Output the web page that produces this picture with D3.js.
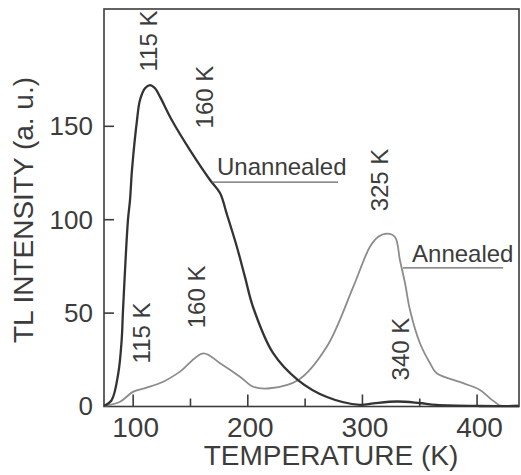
<!DOCTYPE html>
<html>
<head>
<meta charset="utf-8">
<script src="https://cdn.jsdelivr.net/npm/d3@7"></script>
<style>
  html, body { margin: 0; padding: 0; background: #ffffff; }
  svg { display: block; font-family: "Liberation Sans", Arial, sans-serif; }
</style>
</head>
<body>
<svg id="chart" width="521" height="475"></svg>
<script>
// Thermoluminescence glow curves: temperature (K) vs TL intensity (a. u.)
const unannealedT = [75, 81.7, 87.5, 90.4, 91.6, 95.9, 97.7, 99.4, 103.8, 106.4, 110.8, 115.1, 119.5, 123.8, 134.1, 150, 167.5, 176.2, 182, 191, 198, 205, 222.4, 244.2, 269.5, 298.3, 310, 330.6, 350, 365, 403, 437];
const unannealedI = [0, 3.2, 17.7, 35.3, 51.4, 99.6, 110.3, 126.3, 153.1, 163.8, 170.1, 171.8, 170.1, 165.6, 153.1, 137, 121, 114, 103, 85, 69, 53, 28.4, 13.9, 4.8, 0.6, 1.4, 2.4, 1.6, 0.6, 0, 0];

const annealedT = [75, 89, 100.6, 112.2, 126.7, 141.3, 161.6, 176.2, 193.6, 205.2, 219.8, 244.5, 269.3, 292.5, 307, 314, 321.9, 328.8, 333.2, 337.6, 341.9, 350.6, 359.4, 365.2, 388.4, 403, 411.7, 417.5, 420, 437];
const annealedI = [0, 2.3, 7.7, 9.8, 13, 18.4, 28.2, 22.9, 15.7, 10.3, 9.5, 13.9, 31.7, 63.9, 85.3, 90.5, 92.3, 90.5, 77.9, 65.7, 51.4, 33.6, 22.9, 17.5, 12.2, 8.6, 4.1, 1.4, 0.3, 0.3];

const xMajorTicks = [100, 200, 300, 400];
const xMinorTicks = [150, 250, 350];
const yTicks = [0, 50, 100, 150];

// Peak annotations: [text, temperature, intensity]
const peakLabels = [
  ["115 K", 113.4, 195.4],
  ["160 K", 162.7, 165.4],
  ["325 K", 315.3, 121],
  ["340 K", 333.2, 30.5],
  ["115 K", 107.4, 39.1],
  ["160 K", 155.3, 58.4]
];
// Series names with leader lines: [text, textT, textI, lineT0, lineT1, lineI]
const seriesLabels = [
  ["Unannealed", 173.6, 123.7, 169.2, 279.1, 119.9],
  ["Annealed", 343.7, 77.1, 335.8, 423.1, 73.9]
];

const svg = d3.select("#chart");
const ink = "#3c3c3c";
const frameL = 104, frameR = 519, frameT = 9, frameB = 406.5;

const x = d3.scaleLinear().domain([75, 437]).range([frameL, frameR]);
const y = d3.scaleLinear().domain([0, 212]).range([406, frameT + 1]);

// frame
svg.append("rect")
  .attr("x", frameL).attr("y", frameT)
  .attr("width", frameR - frameL).attr("height", frameB - frameT)
  .attr("fill", "none").attr("stroke", ink).attr("stroke-width", 1.6);

// x axis ticks (inward) and labels
const xAxis = svg.append("g").attr("transform", `translate(0,${frameB})`);
xAxis.call(d3.axisTop(x).tickValues(xMajorTicks).tickSize(12).tickFormat(""));
xAxis.append("g").call(d3.axisTop(x).tickValues(xMinorTicks).tickSize(8).tickFormat(""));
xAxis.selectAll(".domain").remove();
xAxis.selectAll("line").attr("stroke", ink).attr("stroke-width", 1.6);

svg.append("g").selectAll("text").data(xMajorTicks).join("text")
  .attr("x", d => x(d) + 3).attr("y", 437)
  .attr("text-anchor", "middle")
  .attr("font-size", 28).attr("fill", ink)
  .text(d => d);

// y axis ticks (inward) and labels
const yAxis = svg.append("g").attr("transform", `translate(${frameL},0)`);
yAxis.call(d3.axisRight(y).tickValues(yTicks.filter(d => d > 0)).tickSize(10).tickFormat(""));
yAxis.selectAll(".domain").remove();
yAxis.selectAll("line").attr("stroke", ink).attr("stroke-width", 1.6);

svg.append("g").selectAll("text").data(yTicks).join("text")
  .attr("x", 93).attr("y", d => y(d))
  .attr("dy", "0.36em")
  .attr("text-anchor", "end")
  .attr("font-size", 26).attr("fill", ink)
  .text(d => d);

// axis titles
svg.append("text")
  .attr("x", 331).attr("y", 465)
  .attr("text-anchor", "middle")
  .attr("font-size", 28).attr("fill", ink)
  .text("TEMPERATURE (K)");

svg.append("text")
  .attr("transform", "translate(23,210) rotate(-90)")
  .attr("dy", "0.36em")
  .attr("text-anchor", "middle")
  .attr("font-size", 28).attr("fill", ink)
  .text("TL INTENSITY (a. u.)");

// curves
const line = d3.line()
  .x(d => x(d[0])).y(d => y(d[1]))
  .curve(d3.curveCatmullRom.alpha(0.5));

svg.append("path")
  .datum(d3.zip(annealedT, annealedI))
  .attr("d", line)
  .attr("fill", "none").attr("stroke", "#8c8c8c").attr("stroke-width", 1.8);

svg.append("path")
  .datum(d3.zip(unannealedT, unannealedI))
  .attr("d", line)
  .attr("fill", "none").attr("stroke", "#333333").attr("stroke-width", 2.3);

// peak temperature annotations (rotated)
svg.append("g").selectAll("text").data(peakLabels).join("text")
  .attr("transform", d => `translate(${x(d[1])},${y(d[2])}) rotate(-90)`)
  .attr("dy", "0.36em")
  .attr("text-anchor", "middle")
  .attr("font-size", 24).attr("fill", ink)
  .text(d => d[0]);

// series names with leader lines
const sl = svg.append("g").selectAll("g").data(seriesLabels).join("g");
sl.append("text")
  .attr("x", d => x(d[1])).attr("y", d => y(d[2]))
  .attr("font-size", 24).attr("fill", ink)
  .text(d => d[0]);
sl.append("line")
  .attr("x1", d => x(d[3])).attr("x2", d => x(d[4]))
  .attr("y1", d => y(d[5])).attr("y2", d => y(d[5]))
  .attr("stroke", "#666").attr("stroke-width", 1.2);
</script>
</body>
</html>
